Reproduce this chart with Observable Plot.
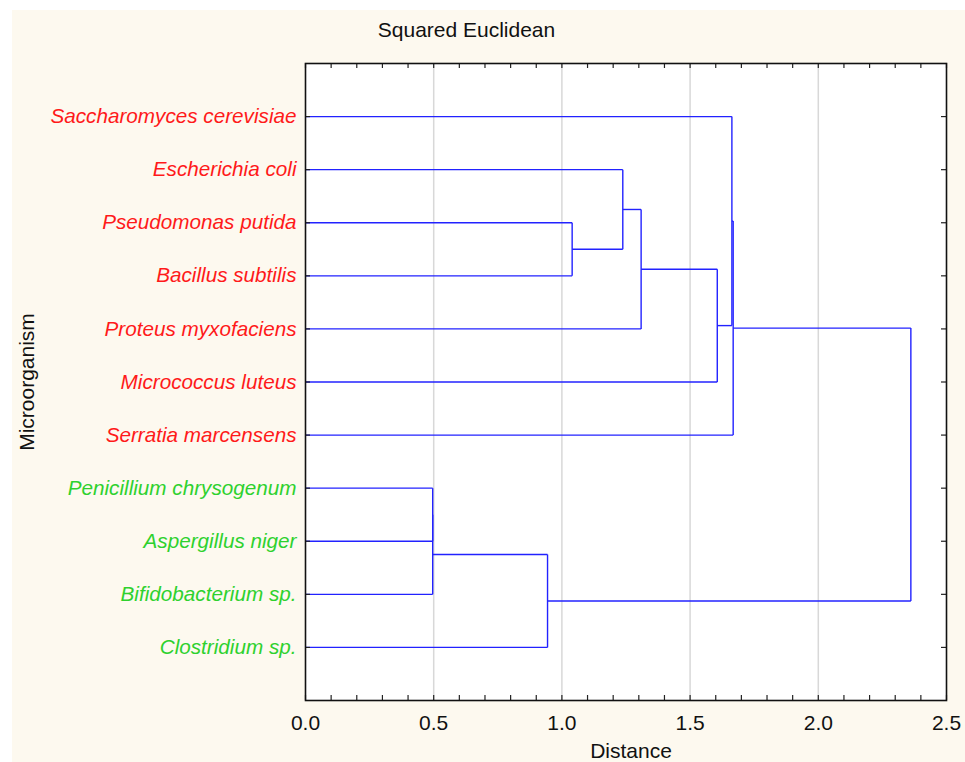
<!DOCTYPE html>
<html>
<head>
<meta charset="utf-8">
<script src="https://cdn.jsdelivr.net/npm/d3@7"></script>
<script src="https://cdn.jsdelivr.net/npm/@observablehq/plot@0.6"></script>
<style>
  html, body { margin: 0; padding: 0; background: #ffffff; }
  #wrap { position: relative; width: 965px; height: 762px; }
  #bg { position: absolute; left: 12px; top: 10px; width: 953px; height: 752px; background: #fdf9ef; }
  #chart { position: absolute; left: 0; top: 0; }
  svg { font-family: "Liberation Sans", Arial, sans-serif; }
</style>
</head>
<body>
<div id="wrap"><div id="bg"></div><div id="chart"></div></div>
<script>
// Leaves, top to bottom
const leaves = [
  "Saccharomyces cerevisiae",
  "Escherichia coli",
  "Pseudomonas putida",
  "Bacillus subtilis",
  "Proteus myxofaciens",
  "Micrococcus luteus",
  "Serratia marcensens",
  "Penicillium chrysogenum",
  "Aspergillus niger",
  "Bifidobacterium sp.",
  "Clostridium sp."
];
const leafGroup = ["red","red","red","red","red","red","red","green","green","green","green"];

// Merges: [childA, childB, distance]; children are leaf names or "m<k>" (k = merge number, 1-based)
const mergeA = ["Pseudomonas putida", "Escherichia coli", "m2", "m3", "Saccharomyces cerevisiae", "m5", "Penicillium chrysogenum", "m7", "m8", "m6"];
const mergeB = ["Bacillus subtilis", "m1", "Proteus myxofaciens", "Micrococcus luteus", "m4", "Serratia marcensens", "Aspergillus niger", "Bifidobacterium sp.", "Clostridium sp.", "m9"];
const mergeDist = [1.040, 1.2375, 1.309, 1.606, 1.663, 1.668, 0.496, 0.496, 0.944, 2.361];

const gridValues = [0.5, 1.0, 1.5, 2.0];
const majorTicks = [0, 0.5, 1.0, 1.5, 2.0, 2.5];

// Build dendrogram segments from merges
const nodes = new Map();
leaves.forEach((name, i) => nodes.set(name, {x: 0, y: i + 1}));
const segments = [];
mergeDist.forEach((h, k) => {
  const a = nodes.get(mergeA[k]);
  const b = nodes.get(mergeB[k]);
  segments.push({x1: a.x, y1: a.y, x2: h, y2: a.y});
  segments.push({x1: b.x, y1: b.y, x2: h, y2: b.y});
  segments.push({x1: h, y1: a.y, x2: h, y2: b.y});
  nodes.set("m" + (k + 1), {x: h, y: (a.y + b.y) / 2});
});

const colorOf = {red: "#ff1a1a", green: "#2ed12e"};
const leafIdx = leaves.map((d, i) => i + 1);
const minorTicks = d3.ticks(0, 2.5, 25);
const fw = 946 - 305, fh = 700 - 63;

const chart = Plot.plot({
  width: 965,
  height: 762,
  marginLeft: 305,
  marginRight: 19,
  marginTop: 63,
  marginBottom: 62,
  style: {background: "transparent", fontFamily: "'Liberation Sans', Arial, sans-serif"},
  x: {domain: [0, 2.5]},
  y: {domain: [0, 12], reverse: true},
  marks: [
    Plot.frame({fill: "white", stroke: "none"}),
    Plot.ruleX(gridValues, {x: d => d, stroke: "#d8d8d8", strokeWidth: 1.5}),
    Plot.link(segments, {x1: "x1", y1: "y1", x2: "x2", y2: "y2", stroke: "#2222ff", strokeWidth: 1.4}),
    // inward ticks on bottom and top
    Plot.ruleX(minorTicks, {x: d => d, insetTop: fh - 5, stroke: "#222", strokeWidth: 1.2}),
    Plot.ruleX(minorTicks, {x: d => d, insetBottom: fh - 5, stroke: "#222", strokeWidth: 1.2}),
    // inward ticks on left and right at leaves
    Plot.ruleY(leafIdx, {y: d => d, insetLeft: fw - 5, stroke: "#222", strokeWidth: 1.2}),
    Plot.ruleY(leafIdx, {y: d => d, insetRight: fw - 5, stroke: "#222", strokeWidth: 1.2}),
    Plot.frame({stroke: "#111", strokeWidth: 1.6}),
    Plot.axisX(majorTicks, {anchor: "bottom", tickSize: 0, tickPadding: 15, fontSize: 21, tickFormat: d3.format(".1f"), label: null, fill: "#111"}),
    Plot.axisY({ticks: [], label: null, tickSize: 0}),
    Plot.text(leaves, {
      y: (d, i) => i + 1, text: d => d, frameAnchor: "left", textAnchor: "end", lineAnchor: "middle",
      dx: -9, fontSize: 20.7, fontStyle: "italic", fill: (d, i) => colorOf[leafGroup[i]]
    }),
    Plot.text(["Distance"], {text: d => d, frameAnchor: "bottom", textAnchor: "middle", lineAnchor: "middle", dx: 5, dy: 51, fontSize: 21, fill: "#111"}),
    Plot.text(["Microorganism"], {text: d => d, frameAnchor: "left", textAnchor: "middle", lineAnchor: "middle", rotate: -90, dx: -278, fontSize: 21, fill: "#111"}),
    Plot.text(["Squared Euclidean"], {text: d => d, frameAnchor: "top-left", textAnchor: "middle", lineAnchor: "middle", dx: 161, dy: -33, fontSize: 21, fill: "#111"})
  ]
});
document.getElementById("chart").appendChild(chart);
</script>
</body>
</html>
